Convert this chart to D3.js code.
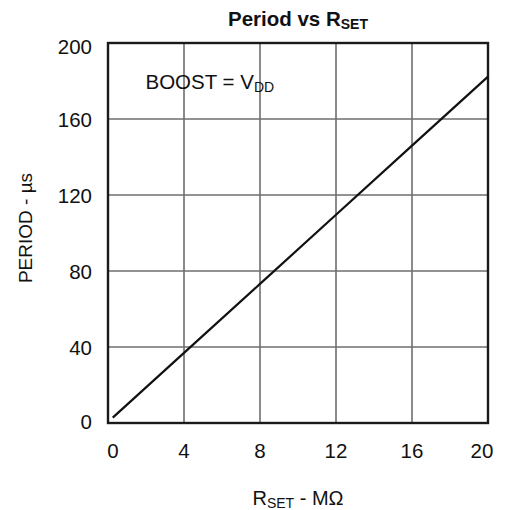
<!DOCTYPE html>
<html>
<head>
<meta charset="utf-8">
<script src="https://cdn.jsdelivr.net/npm/d3@7/dist/d3.min.js"></script>
<style>
html,body{margin:0;padding:0;background:#fff;}
svg text{font-family:"Liberation Sans",Arial,Helvetica,sans-serif;fill:#111;}
</style>
</head>
<body>
<script>
const xTicks = [0, 4, 8, 12, 16, 20];
const yTicks = [0, 40, 80, 120, 160, 200];
const rsetValues = [0.25, 4, 8, 12, 16, 20];
const periodValues = [2.8, 36.9, 73.2, 109.6, 146.0, 182.3];

const W = 506, H = 510;
const m = {left:108, right:18, top:43, bottom:87};
const svg = d3.select("body").append("svg").attr("width", W).attr("height", H);

const x = d3.scaleLinear().domain([0, 20]).range([m.left, W - m.right]);
const y = d3.scaleLinear().domain([0, 200]).range([H - m.bottom, m.top]);

const g = svg.append("g");
// grid
g.selectAll(".vg").data(xTicks.slice(1, -1)).join("line")
  .attr("x1", d => x(d)).attr("x2", d => x(d))
  .attr("y1", y(0)).attr("y2", y(200))
  .attr("stroke", "#6e6e6e").attr("stroke-width", 1.6);
g.selectAll(".hg").data(yTicks.slice(1, -1)).join("line")
  .attr("y1", d => y(d)).attr("y2", d => y(d))
  .attr("x1", x(0)).attr("x2", x(20))
  .attr("stroke", "#6e6e6e").attr("stroke-width", 1.6);

// frame
g.append("rect")
  .attr("x", x(0)).attr("y", y(200))
  .attr("width", x(20) - x(0)).attr("height", y(0) - y(200))
  .attr("fill", "none").attr("stroke", "#1a1a1a").attr("stroke-width", 2.4);

// line
const pts = rsetValues.map((v, i) => [v, periodValues[i]]);
g.append("path").datum(pts)
  .attr("d", d3.line().x(d => x(d[0])).y(d => y(d[1])))
  .attr("fill", "none").attr("stroke", "#111").attr("stroke-width", 2.2);

// x tick labels
const nudgeX = d => d === 0 ? 5 : (d === 20 ? -6 : 0);
svg.selectAll(".xt").data(xTicks).join("text")
  .attr("x", d => x(d) + nudgeX(d)).attr("y", 457.5)
  .attr("text-anchor", "middle").attr("font-size", 20.5)
  .text(d => d);

// y tick labels
const nudgeY = d => d === 0 ? -2 : (d === 200 ? 3 : 0);
svg.selectAll(".yt").data(yTicks).join("text")
  .attr("x", 92).attr("y", d => y(d) + nudgeY(d) + 7.5)
  .attr("text-anchor", "end").attr("font-size", 20.5)
  .text(d => d);

// title
const t = svg.append("text").attr("x", (x(0) + x(20)) / 2).attr("y", 26)
  .attr("text-anchor", "middle").attr("font-size", 20.5).attr("font-weight", "bold");
t.append("tspan").text("Period vs R");
t.append("tspan").attr("font-size", 14).attr("dy", 3).text("SET");

// annotation
const a = svg.append("text").attr("x", 145.5).attr("y", 89.3).attr("font-size", 20.5);
a.append("tspan").text("BOOST = V");
a.append("tspan").attr("font-size", 14).attr("dy", 3).text("DD");

// x label
const xl = svg.append("text").attr("x", (x(0) + x(20)) / 2).attr("y", 505)
  .attr("text-anchor", "middle").attr("font-size", 20);
xl.append("tspan").text("R");
xl.append("tspan").attr("font-size", 14).attr("dy", 3).text("SET");
xl.append("tspan").attr("dy", -3).text(" - MΩ");

// y label
svg.append("text")
  .attr("transform", "translate(31.5,228) rotate(-90)")
  .attr("text-anchor", "middle").attr("font-size", 19)
  .text("PERIOD - µs");
</script>
</body>
</html>
